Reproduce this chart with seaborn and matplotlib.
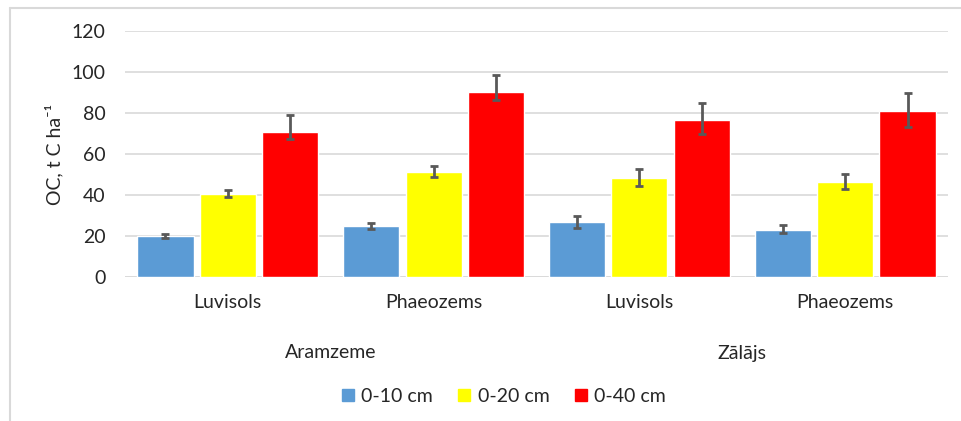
import seaborn as sns
import matplotlib.pyplot as plt
import pandas as pd
from matplotlib.lines import Line2D
from matplotlib.transforms import blended_transform_factory

# data
land_use = ["Aramzeme", "Aramzeme", "Zālājs", "Zālājs"]
soils = ["Luvisols", "Phaeozems", "Luvisols", "Phaeozems"]
depths = ["0-10 cm", "0-20 cm", "0-40 cm"]
oc_10 = [20.0, 24.7, 27.0, 22.8]
oc_20 = [40.6, 51.1, 48.4, 46.5]
oc_40 = [70.7, 90.2, 76.6, 81.1]
# error bar ends (lower, upper)
lo_10 = [19.2, 23.3, 24.0, 21.3]
hi_10 = [20.9, 26.2, 29.9, 25.4]
lo_20 = [39.0, 48.6, 44.5, 42.8]
hi_20 = [42.6, 54.0, 52.7, 50.2]
lo_40 = [67.2, 86.3, 69.6, 73.2]
hi_40 = [78.9, 98.5, 84.9, 89.6]

colors = ["#5b9bd5", "#ffff00", "#ff0000"]

rows = []
for d, vals, lo, hi in zip(depths, [oc_10, oc_20, oc_40],
                           [lo_10, lo_20, lo_40], [hi_10, hi_20, hi_40]):
    for i in range(4):
        rows.append({"cat": f"{land_use[i]}|{soils[i]}", "depth": d,
                     "oc": vals[i], "lo": lo[i], "hi": hi[i]})
df = pd.DataFrame(rows)

sns.set_style("white")
plt.rcParams["font.family"] = ["Lato", "DejaVu Sans"]
txt = "#262626"
fs = 14

fig = plt.figure(figsize=(9.62, 4.21), dpi=100)
ax = fig.add_axes([125 / 962, 1 - 277 / 421, (948 - 125) / 962, (277 - 31) / 421])

sns.barplot(data=df, x="cat", y="oc", hue="depth", palette=colors,
            width=0.91, gap=0.1, errorbar=None, ax=ax, legend=False,
            saturation=1, zorder=2)

# error bars on the bar centres
for bars, d in zip(ax.containers, depths):
    sub = df[df.depth == d]
    xs = [b.get_x() + b.get_width() / 2 for b in bars]
    yerr = [sub.oc - sub.lo, sub.hi - sub.oc]
    ax.errorbar(xs, sub.oc, yerr=yerr, fmt="none", ecolor="#595959",
                elinewidth=2, capsize=3, capthick=2, zorder=3)

ax.set_ylim(0, 120)
ax.set_yticks(range(0, 121, 20))
ax.yaxis.grid(True, color="#d9d9d9", linewidth=1.2, zorder=0)
ax.set_axisbelow(True)
for s in ax.spines.values():
    s.set_visible(False)
ax.axhline(0, color="#d9d9d9", linewidth=1.2, zorder=1)
ax.tick_params(axis="both", length=0, labelsize=fs, colors=txt)
ax.tick_params(axis="y", pad=14)
ax.tick_params(axis="x", pad=12)
ax.set_xticks(range(4))
ax.set_xticklabels(soils)
ax.set_xlim(-0.5, 3.5)
ax.set_xlabel("")
ax.set_ylabel("OC, t C ha⁻¹", fontsize=fs, color=txt, labelpad=6)

# second level of category labels
tr = blended_transform_factory(ax.transData, fig.transFigure)
for x, name in [(0.5, "Aramzeme"), (2.5, "Zālājs")]:
    ax.text(x, 1 - 353 / 421, name, transform=tr, ha="center", va="center",
            fontsize=fs, color=txt)

handles = [Line2D([], [], marker="s", linestyle="none", markersize=8,
                  markerfacecolor=c, markeredgecolor=c) for c in colors]
fig.legend(handles, depths, loc="center", bbox_to_anchor=(497 / 962, 1 - 396 / 421),
           ncol=3, frameon=False, fontsize=fs, handletextpad=-0.3,
           columnspacing=0.6, labelcolor=txt)

# chart frame edges
fig.add_artist(Line2D([10 / 962, 10 / 962], [0, 1 - 8 / 421],
                      color="#d9d9d9", linewidth=1.5))
fig.add_artist(Line2D([10 / 962, 1], [1 - 8 / 421, 1 - 8 / 421],
                      color="#d9d9d9", linewidth=1.5))

fig.savefig("out.png", dpi=100)
